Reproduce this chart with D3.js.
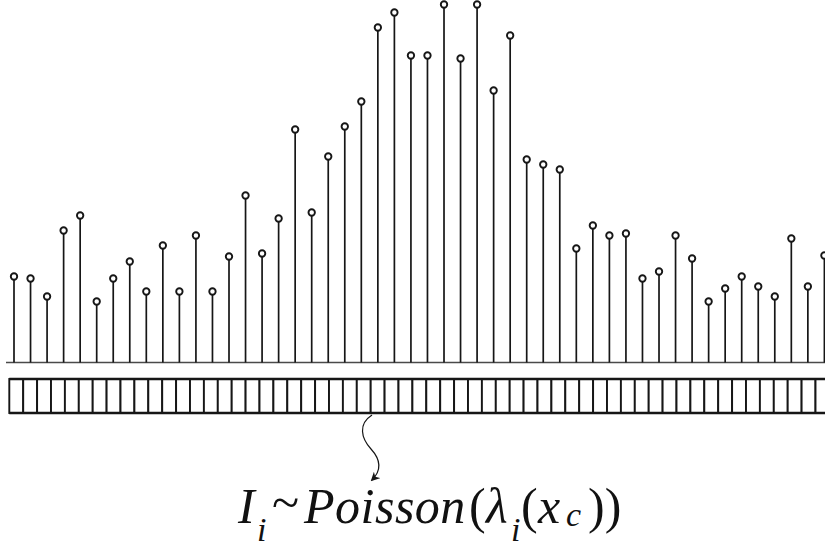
<!DOCTYPE html>
<html>
<head>
<meta charset="utf-8">
<script src="https://cdn.jsdelivr.net/npm/d3@7"></script>
</head>
<body style="margin:0">
<svg id="stems" width="825" height="550" style="display:block"></svg>
<script>
// Photon counts per detector channel (stem heights)
const channels = d3.range(50);
const counts = [
  86, 84, 66, 132, 147, 61, 84, 101, 71, 117,
  71, 127, 71, 106, 167, 109, 144, 233, 150, 206,
  236, 261, 335, 350, 307, 307, 358, 304, 358, 272,
  327, 203, 198, 193, 114, 137, 127, 129, 84, 91,
  127, 104, 61, 74, 86, 76, 66, 124, 76, 107
];
// Pixel bins in the detector strip
const pixelCount = 59;
const pixels = d3.range(pixelCount);

const svg = d3.select("#stems");

const x = d3.scalePoint().domain(channels).range([14, 824.4]);
const y = d3.scaleLinear().domain([0, 360]).range([362.5, 2.5]);
const px = d3.scaleBand().domain(pixels).range([9.3, 9.3 + pixelCount * 13.9]).paddingInner(0);

const ink = "#161616";

// Baseline
svg.append("line")
  .attr("x1", 6).attr("x2", 825)
  .attr("y1", y(0)).attr("y2", y(0))
  .attr("stroke", "#4a4a4a").attr("stroke-width", 1.7);

// Stems
const r = 3.2;
svg.append("g").selectAll("line")
  .data(counts)
  .join("line")
  .attr("x1", (d, i) => x(i)).attr("x2", (d, i) => x(i))
  .attr("y1", y(0)).attr("y2", d => y(d) + r)
  .attr("stroke", ink).attr("stroke-width", 1.7);

// Stem markers
svg.append("g").selectAll("circle")
  .data(counts)
  .join("circle")
  .attr("cx", (d, i) => x(i)).attr("cy", d => y(d))
  .attr("r", r)
  .attr("fill", "#fff").attr("stroke", ink).attr("stroke-width", 1.9);

// Detector strip
const stripTop = 379, stripH = 34;
svg.append("g").selectAll("rect")
  .data(pixels)
  .join("rect")
  .attr("x", d => px(d)).attr("y", stripTop)
  .attr("width", px.bandwidth()).attr("height", stripH)
  .attr("fill", "#fff").attr("stroke", ink).attr("stroke-width", 1.9);
svg.append("line")
  .attr("x1", px(0)).attr("x2", 825).attr("y1", stripTop).attr("y2", stripTop)
  .attr("stroke", ink).attr("stroke-width", 2.4);
svg.append("line")
  .attr("x1", px(0)).attr("x2", 825).attr("y1", stripTop + stripH).attr("y2", stripTop + stripH)
  .attr("stroke", ink).attr("stroke-width", 2.4);

// Curved arrow from the strip down to the formula
svg.append("defs").append("marker")
  .attr("id", "head")
  .attr("viewBox", "0 0 10 10")
  .attr("refX", 8).attr("refY", 5)
  .attr("markerWidth", 9).attr("markerHeight", 9)
  .attr("markerUnits", "userSpaceOnUse")
  .attr("orient", "auto")
  .append("path")
  .attr("d", "M0,0 L10,5 L0,10 L3,5 Z")
  .attr("fill", ink);

const arrow = d3.path();
arrow.moveTo(372, 415);
arrow.bezierCurveTo(358, 424, 361, 438, 371, 449);
arrow.bezierCurveTo(381, 460, 382, 470, 372, 480);
svg.append("path")
  .attr("d", arrow.toString())
  .attr("fill", "none")
  .attr("stroke", ink).attr("stroke-width", 1.2)
  .attr("marker-end", "url(#head)");

// Formula: I_i ~ Poisson(λ_i(x_c)), one text element per piece
const base = 523;
const pieces = [
  { t: "I",       x: 238, dy: 0,  size: 50, it: true },
  { t: "i",       x: 257, dy: 18, size: 34, it: true },
  { t: "~",       x: 272, dy: -4, size: 50, it: false },
  { t: "Poisson", x: 304, dy: 0,  size: 50, it: true, ls: 0.5 },
  { t: "(",       x: 469, dy: 0,  size: 50, it: false },
  { t: "λ",       x: 486, dy: 0,  size: 50, it: true },
  { t: "i",       x: 511, dy: 18, size: 34, it: true },
  { t: "(",       x: 521, dy: 0,  size: 50, it: false },
  { t: "x",       x: 538, dy: 0,  size: 50, it: true },
  { t: "c",       x: 566, dy: 3,  size: 34, it: true },
  { t: "))",      x: 588, dy: 0,  size: 50, it: false }
];
svg.append("g").selectAll("text")
  .data(pieces)
  .join("text")
  .attr("x", d => d.x).attr("y", d => base + d.dy)
  .attr("fill", "#111")
  .style("font-family", '"Liberation Serif", "DejaVu Serif", serif', "important")
  .style("font-size", d => d.size + "px", "important")
  .style("font-style", d => d.it ? "italic" : "normal", "important")
  .style("letter-spacing", d => (d.ls || 0) + "px")
  .text(d => d.t);
</script>
</body>
</html>
